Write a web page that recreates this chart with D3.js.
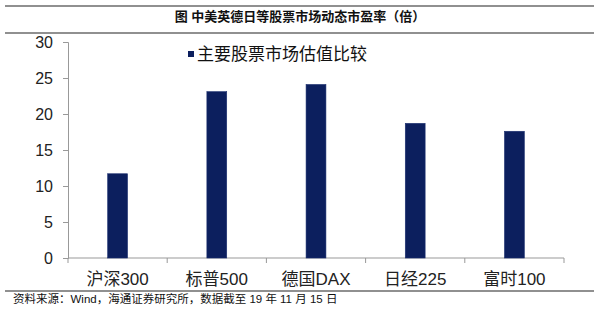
<!DOCTYPE html>
<html lang="zh">
<head>
    <meta charset="UTF-8">
    <title>中美英德日等股票市场动态市盈率</title>
    <style>
        body { margin: 0; background: #fff; }
        svg { display: block; }
    </style>
</head>
<body>
    <div id="chart"></div>

    <script src="https://d3js.org/d3.v7.min.js"></script>

    <script>
        // Data
        var categories = ["沪深300", "标普500", "德国DAX", "日经225", "富时100"];
        var peValues = [11.7, 23.1, 24.1, 18.7, 17.6];
        var yTicks = [0, 5, 10, 15, 20, 25, 30];
        var seriesName = "主要股票市场估值比较";
        var titleText = "图 中美英德日等股票市场动态市盈率（倍）";
        var sourceText = "资料来源：Wind，海通证券研究所，数据截至 19 年 11 月 15 日";

        var width = 600, height = 309;
        var barColor = "#0c1f5e";
        var cjk = "'Liberation Sans', Arial, 'Noto Sans CJK SC', sans-serif";

        var svg = d3.select("#chart")
                    .append("svg")
                    .attr("width", width)
                    .attr("height", height);

        // Frame lines round the title and source
        [6, 33, 291].forEach(function(y) {
            svg.append("line")
                .attr("x1", 5).attr("x2", 594)
                .attr("y1", y).attr("y2", y)
                .attr("stroke", "#222")
                .attr("stroke-width", 1.2);
        });

        svg.append("text")
            .attr("x", 300).attr("y", 20.5)
            .attr("text-anchor", "middle")
            .attr("font-family", cjk)
            .attr("font-size", "13px")
            .attr("font-weight", "bold")
            .attr("fill", "#111")
            .text(titleText);

        // Scales
        var x = d3.scaleBand()
                  .domain(categories)
                  .range([68, 564])
                  .paddingInner(0.8)
                  .paddingOuter(0.4);

        var y = d3.scaleLinear()
                  .domain([0, 30])
                  .range([258, 42]);

        // Y axis
        var yAxis = svg.append("g")
                       .attr("transform", "translate(68,0)")
                       .call(d3.axisLeft(y).tickValues(yTicks).tickSize(5).tickPadding(10));
        yAxis.select(".domain").attr("stroke", "#999");
        yAxis.selectAll(".tick line").attr("stroke", "#999");
        yAxis.selectAll(".tick text")
             .attr("font-family", "'Liberation Sans', Arial, sans-serif")
             .attr("font-size", "16px")
             .attr("fill", "#222");

        // X axis: line with tick marks at the band edges
        var xLine = svg.append("g");
        xLine.append("line")
             .attr("x1", 68).attr("x2", 564)
             .attr("y1", y(0)).attr("y2", y(0))
             .attr("stroke", "#999");
        var edges = categories.map(function(c) { return x(c) - x.step() * x.paddingInner() / 2; });
        edges.push(564);
        xLine.selectAll(".edge")
             .data(edges)
             .enter().append("line")
             .attr("class", "edge")
             .attr("x1", function(d) { return d; })
             .attr("x2", function(d) { return d; })
             .attr("y1", y(0)).attr("y2", y(0) + 5)
             .attr("stroke", "#999");

        svg.append("g")
           .selectAll("text")
           .data(categories)
           .enter().append("text")
           .attr("x", function(d) { return x(d) + x.bandwidth() / 2; })
           .attr("y", 285)
           .attr("text-anchor", "middle")
           .attr("font-family", cjk)
           .attr("font-size", "17px")
           .attr("fill", "#222")
           .text(function(d) { return d; });

        // Bars
        svg.append("g")
           .selectAll("rect")
           .data(peValues)
           .enter().append("rect")
           .attr("x", function(d, i) { return x(categories[i]); })
           .attr("y", function(d) { return y(d); })
           .attr("width", x.bandwidth())
           .attr("height", function(d) { return y(0) - y(d); })
           .attr("fill", barColor)
           .attr("stroke", "#1a2d6e")
           .attr("stroke-width", 0.6);

        // Legend
        var legend = svg.append("g");
        legend.append("rect")
              .attr("x", 188).attr("y", 51)
              .attr("width", 6).attr("height", 6)
              .attr("fill", barColor);
        legend.append("text")
              .attr("x", 197).attr("y", 60)
              .attr("font-family", cjk)
              .attr("font-size", "17px")
              .attr("fill", "#111")
              .text(seriesName);

        // Source line
        svg.append("text")
            .attr("x", 13).attr("y", 303)
            .attr("font-family", cjk)
            .attr("font-size", "11.5px")
            .attr("fill", "#111")
            .text(sourceText);
    </script>
</body>
</html>
